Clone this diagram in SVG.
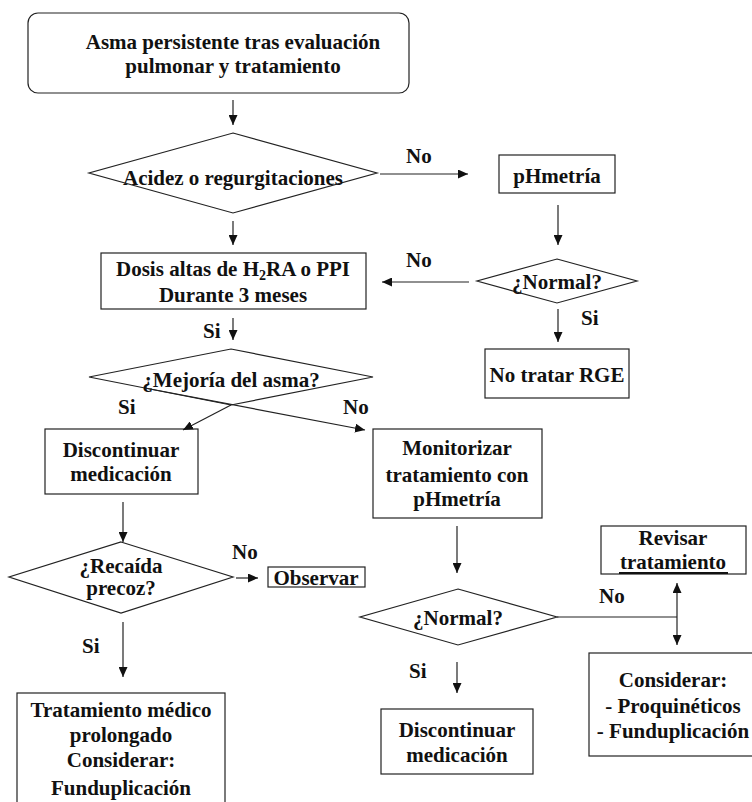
<svg xmlns="http://www.w3.org/2000/svg" width="752" height="802" viewBox="0 0 752 802">
<defs>
<style>
.box{fill:#fff;stroke:#222;stroke-width:1.2}
.t{font-family:"Liberation Serif","Times New Roman",serif;font-weight:bold;font-size:21px;fill:#111;text-anchor:middle}
.l{font-family:"Liberation Serif","Times New Roman",serif;font-weight:bold;font-size:21px;fill:#111}
.c{fill:none;stroke:#222;stroke-width:1.2}
.a{marker-end:url(#ah)}
</style>
<marker id="ah" markerUnits="userSpaceOnUse" markerWidth="11" markerHeight="9" refX="10" refY="4.5" orient="auto-start-reverse" viewBox="0 0 11 9">
<path d="M0,0 L10,4.5 L0,9 z" fill="#111"/>
</marker>
</defs>
<rect width="752" height="802" fill="#fff"/>

<g id="n-asma">
<rect class="box" x="28" y="13" width="381" height="80" rx="10"/>
<text class="t" x="233" y="49">Asma persistente tras evaluación</text>
<text class="t" x="233" y="73">pulmonar y tratamiento</text>
</g>

<g id="n-acidez">
<polygon class="box" points="233,133 377,173 233,213 89,173"/>
<text class="t" x="233" y="185">Acidez o regurgitaciones</text>
</g>

<g id="n-phmetria">
<rect class="box" x="499" y="155" width="116" height="38"/>
<text class="t" x="557" y="183">pHmetría</text>
</g>

<g id="n-normal1">
<polygon class="box" points="557,259 637,281 557,303 477,281"/>
<text class="t" x="557" y="289">¿Normal?</text>
</g>

<g id="n-notratar">
<rect class="box" x="485" y="349" width="144" height="49"/>
<text class="t" x="557" y="382">No tratar RGE</text>
</g>

<g id="n-dosis">
<rect class="box" x="101" y="253" width="265" height="56"/>
<text class="t" x="233" y="276">Dosis altas de H<tspan font-size="14" dy="4">2</tspan><tspan dy="-4">RA o PPI</tspan></text>
<text class="t" x="233" y="302">Durante 3 meses</text>
</g>

<g id="n-mejoria">
<polygon class="box" points="231,349 373,377 231,405 89,377"/>
<text class="t" x="231" y="387">¿Mejoría del asma?</text>
</g>

<g id="n-disc1">
<rect class="box" x="45" y="429" width="153" height="65"/>
<text class="t" x="121" y="457">Discontinuar</text>
<text class="t" x="121" y="481">medicación</text>
</g>

<g id="n-recaida">
<polygon class="box" points="121,542 233,577 121,613 9,577"/>
<text class="t" x="121" y="573">¿Recaída</text>
<text class="t" x="121" y="595">precoz?</text>
</g>

<g id="n-observar">
<rect class="box" x="268" y="567" width="97" height="20"/>
<text class="t" x="316" y="585">Observar</text>
</g>

<g id="n-tratamiento">
<rect class="box" x="17" y="693" width="208" height="120"/>
<text class="t" x="121" y="717">Tratamiento médico</text>
<text class="t" x="121" y="742">prolongado</text>
<text class="t" x="121" y="767">Considerar:</text>
<text class="t" x="121" y="795">Funduplicación</text>
</g>

<g id="n-monitorizar">
<rect class="box" x="373" y="429" width="169" height="89"/>
<text class="t" x="457" y="455">Monitorizar</text>
<text class="t" x="457" y="482">tratamiento con</text>
<text class="t" x="457" y="506">pHmetría</text>
</g>

<g id="n-normal2">
<polygon class="box" points="458,589 557,617 458,645 360,617"/>
<text class="t" x="458" y="625">¿Normal?</text>
</g>

<g id="n-revisar">
<rect class="box" x="601" y="526" width="145" height="48"/>
<text class="t" x="673" y="545">Revisar</text>
<text class="t" x="673" y="569">tratamiento</text>
<line x1="619" y1="573" x2="728" y2="573" stroke="#111" stroke-width="2"/>
</g>

<g id="n-considerar">
<rect class="box" x="589" y="653" width="165" height="103"/>
<text class="t" x="673" y="687">Considerar:</text>
<text class="t" x="673" y="713">- Proquinéticos</text>
<text class="t" x="673" y="738">- Funduplicación</text>
</g>

<g id="n-disc2">
<rect class="box" x="381" y="709" width="152" height="65"/>
<text class="t" x="457" y="737">Discontinuar</text>
<text class="t" x="457" y="762">medicación</text>
</g>

<g id="connectors">
<line class="c a" x1="233" y1="100" x2="233" y2="125"/>
<line class="c a" x1="380" y1="174" x2="468" y2="174"/>
<line class="c a" x1="558" y1="205" x2="558" y2="245"/>
<line class="c a" x1="469" y1="282" x2="382" y2="282"/>
<line class="c a" x1="558" y1="309" x2="558" y2="342"/>
<line class="c a" x1="233" y1="221" x2="233" y2="245"/>
<line class="c a" x1="233" y1="318" x2="233" y2="340"/>
<line class="c a" x1="231" y1="405" x2="183" y2="430"/>
<line class="c a" x1="145" y1="388" x2="365" y2="430"/>
<line class="c a" x1="123" y1="502" x2="123" y2="542"/>
<line class="c a" x1="236" y1="578" x2="258" y2="578"/>
<line class="c a" x1="123" y1="622" x2="123" y2="677"/>
<line class="c a" x1="457" y1="526" x2="457" y2="573"/>
<line class="c" x1="557" y1="617" x2="677" y2="617"/>
<line class="c a" x1="677" y1="617" x2="677" y2="583"/>
<line class="c a" x1="677" y1="617" x2="677" y2="645"/>
<line class="c a" x1="457" y1="662" x2="457" y2="693"/>
</g>

<g id="labels">
<text class="l" x="406" y="163">No</text>
<text class="l" x="406" y="267">No</text>
<text class="l" x="581" y="325">Si</text>
<text class="l" x="203" y="338">Si</text>
<text class="l" x="118" y="414">Si</text>
<text class="l" x="343" y="414">No</text>
<text class="l" x="232" y="559">No</text>
<text class="l" x="82" y="653">Si</text>
<text class="l" x="599" y="603">No</text>
<text class="l" x="409" y="678">Si</text>
</g>
</svg>
